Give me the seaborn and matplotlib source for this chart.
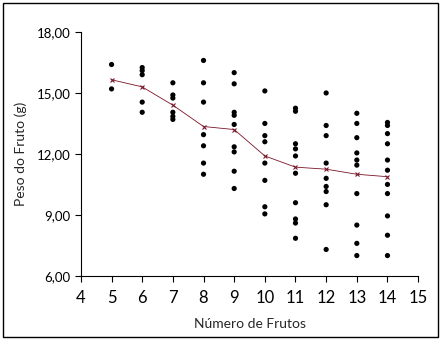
import numpy as np
import pandas as pd
import matplotlib
matplotlib.use('Agg')
import matplotlib.pyplot as plt
import seaborn as sns

# numero de frutos / peso de cada fruto
n_frutos = [5, 5,
            6, 6, 6, 6, 6,
            7, 7, 7, 7, 7, 7,
            8, 8, 8, 8, 8, 8, 8,
            9, 9, 9, 9, 9, 9, 9, 9, 9,
            10, 10, 10, 10, 10, 10, 10, 10,
            11, 11, 11, 11, 11, 11, 11, 11, 11, 11,
            12, 12, 12, 12, 12, 12, 12, 12, 12,
            13, 13, 13, 13, 13, 13, 13, 13, 13, 13,
            14, 14, 14, 14, 14, 14, 14, 14, 14, 14, 14]
peso = [16.4, 15.2,
        16.25, 16.1, 15.9, 14.55, 14.05,
        15.5, 14.9, 14.75, 14.05, 13.85, 13.7,
        16.6, 15.5, 14.55, 12.95, 12.4, 11.55, 11.0,
        16.0, 15.45, 14.05, 13.9, 13.45, 12.35, 12.1, 11.15, 10.3,
        15.1, 13.5, 12.9, 12.6, 11.55, 10.7, 9.4, 9.05,
        14.25, 14.1, 12.5, 12.25, 11.9, 11.05, 9.6, 8.8, 8.6, 7.85,
        15.0, 13.4, 12.9, 11.55, 10.8, 10.4, 10.15, 9.5, 7.3,
        14.0, 13.5, 12.8, 12.05, 11.7, 11.45, 10.05, 8.5, 7.6, 7.0,
        13.55, 13.4, 13.0, 12.5, 11.7, 11.2, 10.5, 10.05, 8.95, 8.0, 7.0]

# medias
n_media = [5, 6, 7, 8, 9, 10, 11, 12, 13, 14]
peso_media = [15.65, 15.3, 14.4, 13.35, 13.2, 11.9, 11.35, 11.25, 11.0, 10.88]

x_ticks = [4, 5, 6, 7, 8, 9, 10, 11, 12, 13, 14, 15]
y_ticks = [6, 9, 12, 15, 18]
y_ticklabels = ['6,00', '9,00', '12,00', '15,00', '18,00']

df = pd.DataFrame({'n': n_frutos, 'peso': peso})
dm = pd.DataFrame({'n': n_media, 'peso': peso_media})

sns.set_style('ticks')
plt.rcParams['font.family'] = ['Lato', 'DejaVu Sans']

fig = plt.figure(figsize=(4.42, 3.44), dpi=100)
ax = fig.add_axes([0.183, 0.198, 0.763, 0.709])

sns.scatterplot(data=df, x='n', y='peso', ax=ax, color='black', s=14,
                edgecolor='none', zorder=3)
sns.lineplot(data=dm, x='n', y='peso', ax=ax, color='#7a1526', lw=0.6,
             marker='x', markersize=3.5, markeredgecolor='#7a1526',
             markeredgewidth=0.8, zorder=4)

ax.set_xlim(4, 15)
ax.set_ylim(6, 18)
ax.set_xticks(x_ticks)
ax.set_xticklabels([str(t) for t in x_ticks], fontsize=12)
ax.set_yticks(y_ticks)
ax.set_yticklabels(y_ticklabels, fontsize=9.5)
ax.tick_params(direction='out', length=4, width=0.8, colors='black')
ax.tick_params(axis='x', pad=6)
ax.set_xlabel('Número de Frutos', fontsize=10, labelpad=9)
ax.set_ylabel('Peso do Fruto (g)', fontsize=10, labelpad=7)
sns.despine(ax=ax)
for s in ['left', 'bottom']:
    ax.spines[s].set_linewidth(0.8)
    ax.spines[s].set_color('black')

fig.add_artist(plt.Rectangle((3 / 442, 7 / 344), 435 / 442, 334 / 344,
                             transform=fig.transFigure, fill=False,
                             lw=1, edgecolor='black'))

fig.savefig('out.png', dpi=100)
